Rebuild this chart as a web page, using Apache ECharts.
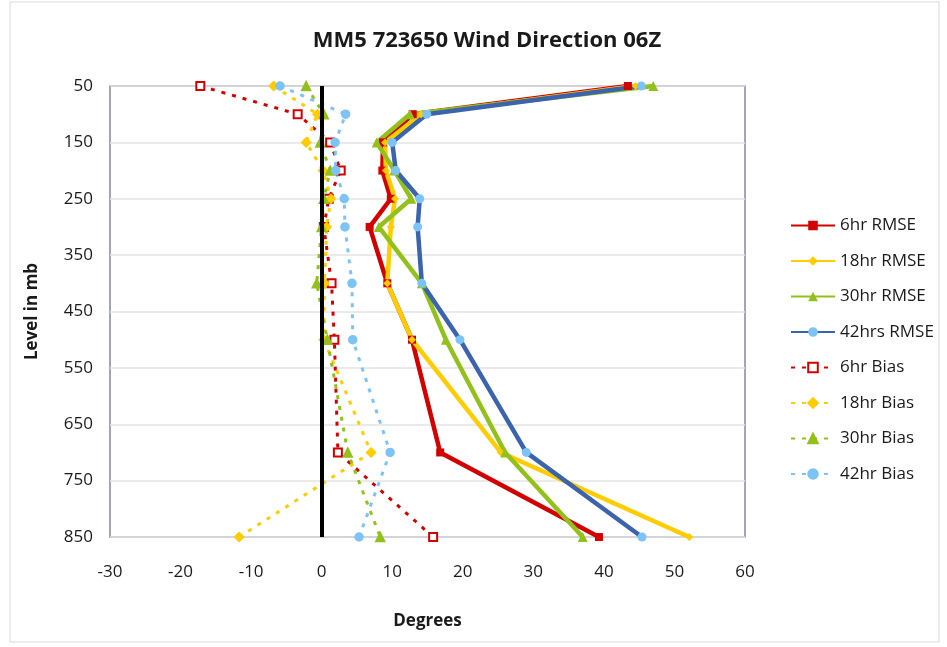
<!DOCTYPE html>
<html>
<head>
<meta charset="utf-8">
<script src="https://cdn.jsdelivr.net/npm/echarts@6/dist/echarts.min.js"></script>
<style>
body{ margin:0; background:#fff; }
#chart{ width:947px; height:647px; }
</style>
</head>
<body>
<div id="chart"></div>
<script>
// pressure levels (mb)
var levels = [50, 100, 150, 200, 250, 300, 400, 500, 700, 850]

var rmse6  = [43.4, 12.9, 8.7, 8.6, 9.8, 6.8, 9.3, 12.8, 16.8, 39.3]
var rmse18 = [44.5, 14.1, 9.0, 9.1, 10.4, 9.8, 9.3, 12.8, 25.4, 52.1]
var rmse30 = [47.0, 12.5, 7.8, 10.3, 12.7, 8.1, 14.2, 17.6, 26.0, 37.0]
var rmse42 = [45.3, 14.9, 10.0, 10.5, 13.9, 13.6, 14.2, 19.6, 29.0, 45.4]

var bias6  = [-17.2, -3.4, 1.2, 2.7, 1.0, 0.3, 1.4, 1.8, 2.3, 15.8]
var bias18 = [-6.8, -0.6, -2.2, 0.2, 1.3, 0.7, 0.4, 0.3, 7.0, -11.7]
var bias30 = [-2.2, 0.3, -0.2, 1.2, 0.3, 0.0, -0.7, 0.8, 3.7, 8.3]
var bias42 = [-5.9, 3.4, 1.9, 2.0, 3.2, 3.3, 4.3, 4.4, 9.7, 5.3]

function pairs(vals){
  return vals.map(function(v, i){ return [v, levels[i]] })
}

function rmseSeries(name, vals, color, symbol, size, symColor){
  return {
    name: name,
    type: 'line',
    data: pairs(vals),
    symbol: symbol,
    symbolSize: size,
    lineStyle: { color: color, width: 4.5 },
    itemStyle: { color: symColor || color },
    z: 3
  }
}

function biasSeries(name, vals, color, symbol, size){
  return {
    name: name,
    type: 'line',
    data: pairs(vals),
    symbol: symbol,
    symbolSize: size,
    lineStyle: { color: color, width: 3, type: [4, 7] },
    itemStyle: { color: color, borderColor: color, borderWidth: 1.5 },
    z: 2
  }
}

var font = 'Open Sans, Liberation Sans, sans-serif'

var chart = echarts.init(document.getElementById('chart'))
chart.setOption({
  animation: false,
  textStyle: { fontFamily: font },
  graphic: [{
    type: 'rect',
    shape: { x: 10, y: 2, width: 929, height: 640 },
    style: { fill: 'none', stroke: '#d9d9d9', lineWidth: 1 },
    silent: true
  }],
  title: {
    text: 'MM5 723650 Wind Direction 06Z',
    left: 482,
    textAlign: 'center',
    top: 25,
    textStyle: { fontSize: 22, fontWeight: 'bold', color: '#1a1a1a', fontFamily: font }
  },
  legend: {
    orient: 'vertical',
    left: 785,
    top: 212,
    itemWidth: 44,
    itemHeight: 12,
    itemGap: 18.5,
    textStyle: { fontSize: 17, color: '#1a1a1a', fontFamily: font },
    data: ['6hr RMSE', '18hr RMSE', '30hr RMSE', '42hrs RMSE', '6hr Bias', '18hr Bias', '30hr Bias', '42hr Bias']
  },
  grid: {
    left: 110, right: 202, top: 86, bottom: 110,
    show: true, borderColor: '#8585a8', borderWidth: 1.5
  },
  xAxis: {
    type: 'value',
    min: -30, max: 60, interval: 10,
    name: 'Degrees',
    nameLocation: 'middle',
    nameGap: 76,
    nameTextStyle: { fontSize: 17, fontWeight: 'bold', color: '#1a1a1a' },
    axisLine: { show: false },
    axisTick: { show: false },
    splitLine: { show: false },
    axisLabel: { fontSize: 17, color: '#1a1a1a', margin: 27 }
  },
  yAxis: {
    type: 'value',
    inverse: true,
    min: 50, max: 850, interval: 100,
    name: 'Level in mb',
    nameLocation: 'middle',
    nameGap: 69,
    nameRotate: 90,
    nameTextStyle: { fontSize: 17, fontWeight: 'bold', color: '#1a1a1a' },
    axisLine: { show: false },
    axisTick: { show: false },
    splitLine: { show: true, lineStyle: { color: '#e3e3e3', width: 1.5 } },
    axisLabel: { fontSize: 17, color: '#1a1a1a', margin: 17 }
  },
  series: [
    biasSeries('6hr Bias', bias6, '#d40000', 'emptyRect', 8),
    biasSeries('18hr Bias', bias18, '#ffcc00', 'diamond', 9),
    biasSeries('30hr Bias', bias30, '#92c11b', 'triangle', 9),
    biasSeries('42hr Bias', bias42, '#7cc4f6', 'circle', 8),
    rmseSeries('6hr RMSE', rmse6, '#d40000', 'rect', 8),
    rmseSeries('18hr RMSE', rmse18, '#ffcc00', 'diamond', 8),
    rmseSeries('30hr RMSE', rmse30, '#92c11b', 'triangle', 10),
    rmseSeries('42hrs RMSE', rmse42, '#3b63ae', 'circle', 9, '#7cc4f6'),
    {
      name: 'zero',
      type: 'line',
      data: [],
      markLine: {
        silent: true,
        symbol: 'none',
        label: { show: false },
        lineStyle: { color: '#000', width: 4, type: 'solid' },
        data: [{ xAxis: 0 }]
      },
      z: 1
    }
  ]
})
</script>
</body>
</html>
